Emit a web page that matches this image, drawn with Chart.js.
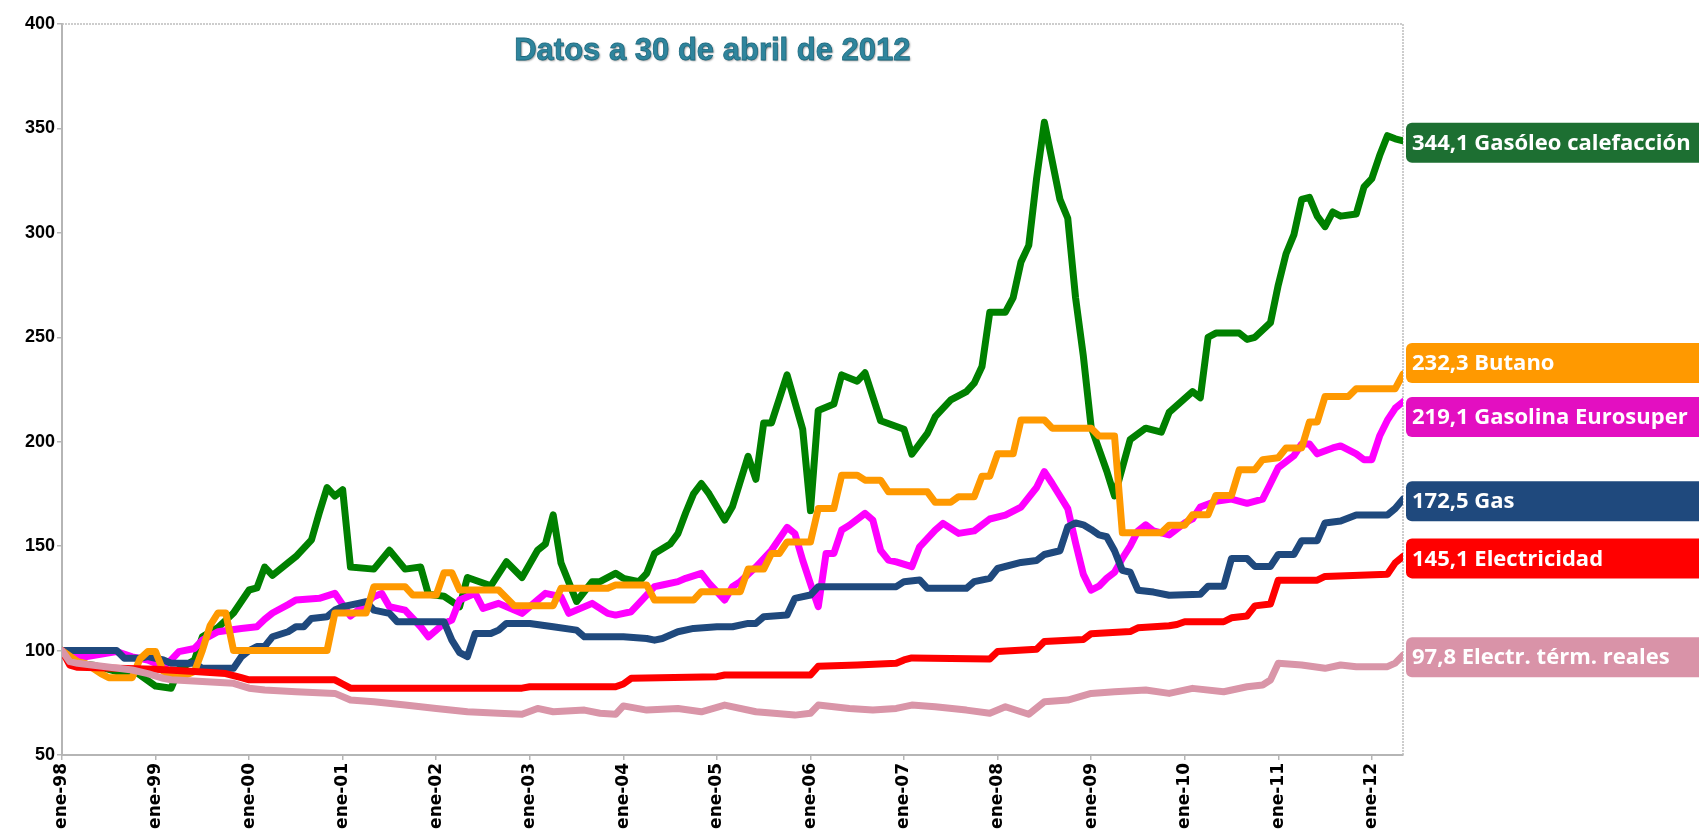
<!DOCTYPE html>
<html lang="es">
<head>
<meta charset="utf-8">
<title>Datos a 30 de abril de 2012</title>
<script src="https://cdn.jsdelivr.net/npm/chart.js@4.4.1/dist/chart.umd.min.js"></script>
<style>
  html, body { margin: 0; padding: 0; background: #fff; overflow: hidden; }
  #wrap { position: relative; width: 1699px; height: 830px; }
</style>
</head>
<body>
<div id="wrap"><canvas id="grafico"></canvas></div>
<script>
// Eje X: meses contados desde ene-98 (0) hasta el 30 de abril de 2012 (172)
const mesFinal = 172;
const etiquetasAnio = ['ene-98', 'ene-99', 'ene-00', 'ene-01', 'ene-02', 'ene-03', 'ene-04',
  'ene-05', 'ene-06', 'ene-07', 'ene-08', 'ene-09', 'ene-10', 'ene-11', 'ene-12'];
const ticksY = [50, 400, 50]; // min, max, paso

// Series: pares [mes, índice base 100]
const gasoleo = [[0,100],[2,94],[4,93],[8,89],[9,91],[12,83],[14,82],[15,91],[17,95.5],[18,106.6],[20,111],[22,118],[24,129],[25,130],[26,140],[27,136],[29,142],[30,145],[32,153],[33,166],[34,178],[35,174],[36,177],[37,140],[40,139],[42,148],[44,139],[46,140],[47,127],[49,126],[51,121],[52,135],[55,131],[57,142.5],[59,135],[61,148],[62,151],[63,165],[64,142],[66,123.5],[68,133],[69,133],[71,137],[72,134.6],[74,133],[75,137],[76,146.5],[78,151],[79,156],[80,166],[81,175],[82,180],[83,175],[85,162.5],[86,169],[88,193],[89,182],[90,209],[91,209],[93,232],[95,206],[96,167],[97,215],[99,218],[100,232],[102,229],[103,233],[105,210],[108,206],[109,194],[111,204],[112,212],[114,220],[116,224],[117,228],[118,236],[119,262],[121,262],[122,269],[123,286],[124,294],[125,326],[126,353],[128,316],[129,307],[130,269],[131,241],[132,207],[134,186],[135,174],[137,201],[139,206.5],[141,204.6],[142,214],[145,224],[146,221],[147,250],[148,252],[151,252],[152,249],[153,250],[155,257],[156,275],[157,290],[158,299],[159,316],[160,317],[161,308],[162,303],[163,310],[164,308],[166,309],[167,322],[168,326],[169,337],[170,346.5],[171,345],[172,344.1]];

const butano = [[0,100],[2,94.7],[3,93.9],[5,89],[6,87],[9,87],[10,96],[11,99.5],[12,99.5],[13,90],[14,88],[15,87],[17,90],[18,100],[19,112],[20,118],[21,118],[22,100],[34,100],[35,118],[39,118],[40,130.6],[44,130.6],[45,126.6],[48,126.6],[49,137.3],[50,137.3],[51,129],[56,129],[58,121.5],[63,121.5],[64,129.8],[70,129.8],[71,131.4],[75,131.4],[76,124.2],[81,124.2],[82,128.2],[87,128.2],[88,139],[90,139],[91,146.5],[92,146.5],[93,152],[96,152],[97,168],[99,168],[100,184],[102,184],[103,181.6],[105,181.6],[106,176],[111,176],[112,171],[114,171],[115,173.7],[117,173.7],[118,183.5],[119,183.5],[120,194.2],[122,194.2],[123,210.4],[126,210.4],[127,206.5],[132,206.5],[133,202.7],[135,202.7],[136,156.4],[141,156.4],[142,160],[144,160],[145,165],[147,165],[148,174.3],[150,174.3],[151,186.6],[153,186.6],[154,191.4],[156,192.3],[157,197],[159,197],[160,209.4],[161,209.4],[162,221.7],[165,221.7],[166,225.4],[171,225.4],[172,232.3]];

const gasolina = [[0,100],[3,97],[7,99.5],[9,97],[11,95.5],[13,92.3],[14,95.5],[15,99.5],[17,101],[18,105],[20,109],[23,110.6],[25,111.4],[26,115],[27,118],[29,122],[30,124.2],[33,125],[35,127.4],[36,122],[37,116.5],[38,119.4],[40,125.8],[41,127.4],[42,121],[44,119.4],[46,111.4],[47,106.6],[49,113],[50,114.6],[51,124.2],[53,127.4],[54,120.2],[56,122.6],[59,117.8],[61,124.2],[62,127.4],[64,125.8],[65,117.8],[68,122.6],[70,117.8],[71,117],[73,118.6],[74,122.6],[76,130.6],[77,131.4],[79,133],[80,134.6],[82,137],[83,132.2],[85,124.2],[86,130.6],[87,133],[89,140],[91,148],[93,159],[94,156],[95,143.3],[96,132],[97,121],[98,146.5],[99,146.5],[100,157.7],[101,160],[103,165.7],[104,162.5],[105,148],[106,143.3],[107,142.5],[109,140.2],[110,149.7],[112,157.7],[113,160.9],[115,156.1],[117,157.3],[119,163],[121,164.9],[123,168.7],[125,178.1],[126,185.7],[127,180],[128,174],[129,168],[130,151.6],[131,136.5],[132,128.9],[133,130.8],[134,134.6],[135,137.5],[136,144.1],[137,150],[138,157.3],[139,160.2],[140,157.3],[142,155.4],[143,158.2],[144,161.1],[145,163],[146,168.7],[148,171.5],[150,172.5],[152,170.5],[154,172.5],[155,180],[156,187.6],[158,193.3],[159,198.9],[160,198.9],[161,194.2],[163,197],[164,198],[166,194.2],[167,191.4],[168,191.4],[169,202.7],[170,210.3],[171,216],[172,219.1]];

const gas = [[0,100],[7,100],[8,96.3],[10,96.3],[11,97.1],[13,95.5],[14,93.9],[17,93.9],[18,91.5],[22,91.5],[23,97],[24,100],[25,101.9],[26,102],[27,106.6],[29,109],[30,111.4],[31,111.4],[32,115.4],[34,116.2],[35,119.4],[36,121],[38,122.6],[39,123.4],[40,119.4],[42,117.8],[43,113.8],[49,113.8],[50,105],[51,99],[52,97.1],[53,108.2],[55,108.2],[56,109.8],[57,113],[60,113],[63,111.4],[66,109.8],[67,106.6],[72,106.6],[75,105.8],[76,105],[77,105.8],[79,109],[81,110.6],[84,111.4],[86,111.4],[88,113],[89,113],[90,116.2],[93,117],[94,125],[96,126.6],[97,130.6],[107,130.6],[108,133],[110,133.8],[111,129.8],[116,129.8],[117,133],[119,134.6],[120,139.3],[123,142.2],[125,143.1],[126,146],[128,147.8],[129,159.2],[130,161.1],[131,160.2],[132,158],[133,155.4],[134,154.5],[135,147.8],[136,138.4],[137,137.5],[138,128.9],[140,128],[142,126.5],[146,127],[147,130.8],[149,130.8],[150,144.1],[152,144.1],[153,140.3],[155,140.3],[156,146],[158,146],[159,152.6],[161,152.6],[162,161.1],[164,162],[166,164.9],[170,164.9],[171,168],[172,172.5]];

const electricidad = [[0,100],[1,93],[2,92],[12,91],[17,90],[21,89],[23,87],[24,86],[35,86],[36,84],[37,82],[59,82],[60,82.7],[71,82.7],[72,84],[73,86.7],[84,87.5],[85,88.3],[96,88.3],[97,92.5],[102,93.1],[107,93.9],[108,95.5],[109,96.5],[119,96],[120,99.6],[125,100.6],[126,104.3],[131,105.3],[132,108.1],[137,109.1],[138,110.9],[142,111.9],[143,112.5],[144,113.8],[149,113.8],[150,115.7],[152,116.6],[153,121.4],[155,122.3],[156,133.7],[161,133.7],[162,135.5],[170,136.5],[171,142],[172,145.1]];

const electrReales = [[0,100],[1,94.7],[2,93.9],[9,90.7],[11,89],[13,86.7],[14,86],[18,85.2],[22,84.3],[24,82],[26,81.1],[30,80.3],[35,79.5],[37,76.3],[40,75.5],[44,73.9],[48,72.3],[52,70.7],[56,70],[59,69.5],[61,72.3],[63,70.7],[67,71.5],[69,70],[71,69.5],[72,73.5],[75,71.5],[79,72.3],[82,70.7],[85,73.9],[89,70.7],[94,69.1],[96,70],[97,73.9],[101,72.3],[104,71.5],[107,72.3],[109,73.9],[112,73.1],[116,71.5],[119,70],[121,73.1],[124,69.5],[126,75.5],[129,76.3],[132,79.5],[135,80.3],[139,81.1],[142,79.5],[145,81.9],[149,80.3],[152,82.7],[154,83.5],[155,85.9],[156,93.9],[159,93.1],[162,91.5],[164,93.1],[166,92.3],[170,92.3],[171,94],[172,97.8]];

// Nombre, datos, color de línea, color de etiqueta (primero = dibujado encima)
const series = [
  ['Electr. térm. reales', electrReales, '#d995a8', '#d993a8'],
  ['Electricidad', electricidad, '#ff0000', '#ff0000'],
  ['Butano', butano, '#ff9900', '#ff9900'],
  ['Gas', gas, '#1f497d', '#1f497d'],
  ['Gasolina Eurosuper', gasolina, '#ff00ff', '#e30fc1'],
  ['Gasóleo calefacción', gasoleo, '#008000', '#1d6f32']
];

// Título dentro del área de trazado
const tituloPlugin = {
  id: 'titulo',
  afterDraw(chart) {
    const { ctx, chartArea } = chart;
    ctx.save();
    ctx.font = 'bold 31px "Liberation Sans", Arial, sans-serif';
    ctx.textAlign = 'center';
    ctx.textBaseline = 'middle';
    ctx.shadowColor = 'rgba(0,0,0,0.45)';
    ctx.shadowOffsetX = 1;
    ctx.shadowOffsetY = 1;
    ctx.shadowBlur = 2;
    ctx.fillStyle = '#2f859d';
    const cx = chartArea.left + (chartArea.right - chartArea.left) * 0.485;
    ctx.fillText('Datos a 30 de abril de 2012', cx, chartArea.top + 27);
    ctx.shadowColor = 'transparent';
    ctx.lineWidth = 0.8;
    ctx.strokeStyle = '#1f6b80';
    ctx.strokeText('Datos a 30 de abril de 2012', cx, chartArea.top + 27);
    ctx.restore();
  }
};

// Borde punteado superior y derecho
const bordePlugin = {
  id: 'borde',
  beforeDatasetsDraw(chart) {
    const { ctx, chartArea } = chart;
    ctx.save();
    ctx.strokeStyle = '#bdbdbd';
    ctx.lineWidth = 1.5;
    ctx.setLineDash([2, 1]);
    ctx.beginPath();
    ctx.moveTo(chartArea.left, chartArea.top);
    ctx.lineTo(chartArea.right, chartArea.top);
    ctx.lineTo(chartArea.right, chartArea.bottom);
    ctx.stroke();
    ctx.restore();
  }
};

// Etiquetas de valor final a la derecha
const etiquetasPlugin = {
  id: 'etiquetasDerecha',
  afterDraw(chart) {
    const { ctx, chartArea, scales } = chart;
    const items = chart.data.datasets.map(ds => {
      const ultimo = ds.data[ds.data.length - 1];
      return { ds, valor: ultimo.y, y: scales.y.getPixelForValue(ultimo.y) };
    });
    items.sort((a, b) => a.y - b.y);
    const sep = 54;
    for (let k = 0; k < 30; k++) {
      for (let i = 1; i < items.length; i++) {
        const d = items[i].y - items[i - 1].y;
        if (d < sep) {
          const m = (sep - d) / 2;
          items[i].y += m;
          items[i - 1].y -= m;
        }
      }
    }
    const x = chartArea.right + 3;
    const h = 40;
    ctx.save();
    items.forEach(it => {
      ctx.fillStyle = it.ds.etiquetaColor;
      ctx.beginPath();
      ctx.roundRect(x, it.y - h / 2 + 2, chart.width - x + 20, h, 6);
      ctx.fill();
      ctx.fillStyle = '#ffffff';
      ctx.font = 'bold 22px "Open Sans", Lato, sans-serif';
      ctx.textBaseline = 'middle';
      ctx.textAlign = 'left';
      const texto = it.valor.toFixed(1).replace('.', ',') + ' ' + it.ds.label;
      ctx.fillText(texto, x + 6, it.y + 3);
    });
    ctx.restore();
  }
};

function dibujarGrafico() {
  const ctx = document.getElementById('grafico').getContext('2d');
  const datasets = series.map(([nombre, datos, color, colorEtiqueta]) => ({
    label: nombre,
    data: datos.map(([mes, v]) => ({ x: mes, y: v })),
    borderColor: color,
    backgroundColor: color,
    etiquetaColor: colorEtiqueta,
    borderWidth: 7,
    borderJoinStyle: 'round',
    borderCapStyle: 'round',
    pointRadius: 0,
    tension: 0,
    fill: false
  }));

  new Chart(ctx, {
    type: 'line',
    data: { datasets },
    plugins: [bordePlugin, tituloPlugin, etiquetasPlugin],
    options: {
      responsive: true,
      maintainAspectRatio: false,
      animation: false,
      layout: { padding: { top: 24, right: 296, left: 0, bottom: 0 } },
      plugins: { legend: { display: false }, tooltip: { enabled: false } },
      scales: {
        x: {
          type: 'linear',
          min: 0,
          max: mesFinal,
          afterFit: s => { s.height = 75; },
          grid: { drawOnChartArea: false, drawTicks: true, tickLength: 5, color: '#b5b5b5', lineWidth: 1.5 },
          border: { display: true, color: '#b5b5b5', width: 2, dash: [2, 1] },
          ticks: {
            stepSize: 12,
            includeBounds: false,
            autoSkip: false,
            minRotation: 90,
            maxRotation: 90,
            padding: 3,
            color: '#000',
            font: { family: '"DejaVu Sans", sans-serif', weight: 'bold', size: 17 },
            callback: v => etiquetasAnio[v / 12]
          }
        },
        y: {
          min: ticksY[0],
          max: ticksY[1],
          afterFit: s => { s.width = 62; },
          grid: { drawOnChartArea: false, drawTicks: true, tickLength: 5, color: '#b5b5b5', lineWidth: 1.5 },
          border: { display: true, color: '#b5b5b5', width: 2, dash: [2, 1] },
          ticks: {
            stepSize: ticksY[2],
            padding: 2,
            color: '#000',
            font: { family: '"Liberation Sans Narrow", "Liberation Sans", Arial, sans-serif', weight: 'bold', size: 18 }
          }
        }
      }
    }
  });
}

dibujarGrafico();
</script>
</body>
</html>
